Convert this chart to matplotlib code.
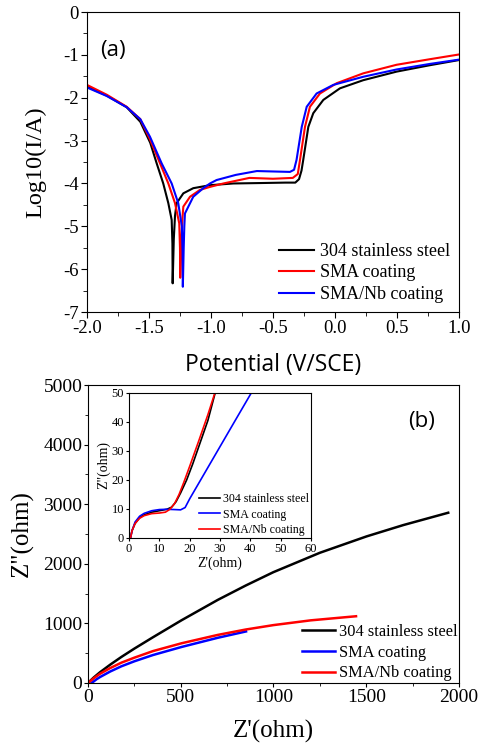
import matplotlib
matplotlib.use("Agg")
import matplotlib.pyplot as plt
from matplotlib.ticker import MultipleLocator

plt.rcParams['font.family'] = ['Liberation Serif', 'DejaVu Serif']
plt.rcParams['axes.unicode_minus'] = False

# ---- (a) polarization curves: potential (V/SCE) vs log10(I/A)
ss_x = [-2.0, -1.84, -1.68, -1.57, -1.49, -1.438, -1.385, -1.344, -1.317, -1.311, -1.309,
        -1.30, -1.29, -1.277, -1.223, -1.143, -1.008, -0.82, -0.6, -0.4, -0.32,
        -0.29, -0.27, -0.256, -0.215, -0.175, -0.094, 0.04, 0.228, 0.497, 0.766, 1.0]
ss_y = [-1.74, -1.95, -2.22, -2.56, -3.05, -3.53, -4.0, -4.46, -4.85, -5.4, -6.33,
        -5.3, -4.75, -4.46, -4.23, -4.11, -4.04, -4.0, -3.99, -3.98, -3.98,
        -3.9, -3.7, -3.45, -2.68, -2.36, -2.05, -1.78, -1.59, -1.39, -1.24, -1.12]

sma_x = [-2.0, -1.84, -1.68, -1.57, -1.492, -1.411, -1.344, -1.29, -1.256, -1.25, -1.248,
         -1.238, -1.23, -1.223, -1.169, -1.089, -1.008, -0.9, -0.69, -0.5, -0.34, -0.30,
         -0.282, -0.242, -0.202, -0.121, 0.014, 0.228, 0.497, 0.766, 1.0]
sma_y = [-1.70, -1.93, -2.21, -2.5, -2.97, -3.53, -4.0, -4.46, -4.93, -5.5, -6.2,
         -5.3, -4.8, -4.54, -4.31, -4.15, -4.08, -4.0, -3.87, -3.89, -3.87, -3.78,
         -3.45, -2.68, -2.21, -1.90, -1.66, -1.43, -1.23, -1.1, -0.99]

nb_x = [-2.0, -1.84, -1.68, -1.57, -1.492, -1.398, -1.317, -1.264, -1.235, -1.229, -1.227,
        -1.22, -1.215, -1.21, -1.143, -1.062, -1.008, -0.955, -0.8, -0.63, -0.5, -0.363, -0.33,
        -0.31, -0.268, -0.228, -0.148, -0.014, 0.228, 0.497, 0.766, 1.0]
nb_y = [-1.76, -1.96, -2.22, -2.5, -2.91, -3.53, -4.0, -4.46, -5.0, -5.6, -6.41,
        -5.5, -5.0, -4.7, -4.31, -4.11, -4.0, -3.92, -3.8, -3.71, -3.72, -3.73, -3.68,
        -3.45, -2.68, -2.21, -1.90, -1.70, -1.51, -1.34, -1.21, -1.11]

# ---- (b) Nyquist plots
eis_ss_x = [0, 30, 65, 120, 180, 250, 350, 505, 700, 850, 999, 1250, 1502, 1700, 1942]
eis_ss_y = [0, 90, 181, 308, 437, 577, 767, 1054, 1395, 1635, 1859, 2185, 2460, 2650, 2857]
eis_sma_x = [20, 45, 65, 120, 180, 250, 350, 505, 700, 852]
eis_sma_y = [0, 60, 100, 193, 280, 364, 469, 605, 759, 865]
eis_nb_x = [0, 30, 65, 120, 180, 250, 350, 505, 700, 850, 999, 1200, 1445]
eis_nb_y = [0, 78, 155, 251, 341, 425, 535, 667, 807, 897, 971, 1051, 1120]

# inset: high-frequency region
ins_ss_x = [0.5, 1, 2, 3.5, 5, 7.5, 10, 12.5, 14, 15.5, 17, 19, 21, 24, 26, 28.4]
ins_ss_y = [0, 2.5, 5, 7, 8, 8.9, 9.4, 9.9, 10.6, 12.5, 15.5, 20, 25.5, 34.5, 40.5, 50]
ins_sma_x = [0.5, 1, 2, 3.5, 5, 7.5, 10, 12.5, 15, 17, 18.5, 20, 25, 30, 35, 40.3]
ins_sma_y = [0, 2.5, 5.5, 7.5, 8.5, 9.4, 9.8, 9.9, 9.8, 9.7, 10.5, 13.5, 22.5, 31.5, 40.5, 50]
ins_nb_x = [0.5, 1, 2, 3.5, 5, 7.5, 10, 12, 13.5, 15, 16.5, 18, 20, 23, 26, 28.3]
ins_nb_y = [0, 2.5, 5, 6.8, 7.7, 8.4, 8.6, 8.9, 9.9, 11.8, 15, 19, 24.7, 33.5, 42.5, 50]

labels = ['304 stainless steel', 'SMA coating', 'SMA/Nb coating']

fig = plt.figure(figsize=(4.79, 7.44), dpi=100)

# Panel (a)
ax1 = fig.add_axes([0.1816, 0.5806, 0.7766, 0.4032])
ax1.plot(ss_x, ss_y, color='black', lw=1.5, label=labels[0])
ax1.plot(sma_x, sma_y, color='#ff0000', lw=1.5, label=labels[1])
ax1.plot(nb_x, nb_y, color='#0000ff', lw=1.5, label=labels[2])
ax1.set_xlim(-2.0, 1.0)
ax1.set_ylim(-7, 0)
ax1.xaxis.set_major_locator(MultipleLocator(0.5))
ax1.xaxis.set_minor_locator(MultipleLocator(0.25))
ax1.yaxis.set_major_locator(MultipleLocator(1))
ax1.yaxis.set_minor_locator(MultipleLocator(0.5))
ax1.xaxis.set_major_formatter(plt.FuncFormatter(lambda v, p: f'{v:.1f}'))
ax1.yaxis.set_major_formatter(plt.FuncFormatter(lambda v, p: f'{v:.0f}'))
ax1.tick_params(which='both', direction='out', labelsize=13.5, pad=2)
ax1.tick_params(which='major', length=4)
ax1.tick_params(which='minor', length=3)
ax1.set_ylabel('Log10(I/A)', fontsize=17.5, labelpad=12)
ax1.set_xlabel('Potential (V/SCE)', fontsize=16.5, family='Open Sans', labelpad=11)
ax1.text(0.035, 0.855, '(a)', transform=ax1.transAxes, fontsize=16, family='Open Sans')
ax1.legend(loc='lower right', frameon=False, fontsize=13, handlelength=1.9,
           handletextpad=0.35, labelspacing=0.25, borderpad=0, borderaxespad=0.5)

# Panel (b)
ax2 = fig.add_axes([0.1837, 0.082, 0.7745, 0.4005])
ax2.plot(eis_ss_x, eis_ss_y, color='black', lw=1.8, label=labels[0])
ax2.plot(eis_sma_x, eis_sma_y, color='#0000ff', lw=1.8, label=labels[1])
ax2.plot(eis_nb_x, eis_nb_y, color='#ff0000', lw=1.8, label=labels[2])
ax2.set_xlim(0, 2000)
ax2.set_ylim(0, 5000)
ax2.xaxis.set_major_locator(MultipleLocator(500))
ax2.xaxis.set_minor_locator(MultipleLocator(250))
ax2.yaxis.set_major_locator(MultipleLocator(1000))
ax2.yaxis.set_minor_locator(MultipleLocator(500))
ax2.tick_params(which='both', direction='out', labelsize=14, pad=1)
ax2.tick_params(which='major', length=3)
ax2.tick_params(which='minor', length=2)
ax2.set_ylabel('Z"(ohm)', fontsize=18, labelpad=7)
ax2.set_xlabel("Z'(ohm)", fontsize=18, labelpad=10)
ax2.text(0.862, 0.86, '(b)', transform=ax2.transAxes, fontsize=16, family='Open Sans')
ax2.legend(loc='lower right', frameon=False, fontsize=11.8, handlelength=2.0,
           handletextpad=0.25, labelspacing=0.28, borderpad=0, borderaxespad=0.1)

# Inset
ax3 = fig.add_axes([0.2693, 0.2769, 0.38, 0.1949])
ax3.plot(ins_ss_x, ins_ss_y, color='black', lw=1.2, label=labels[0])
ax3.plot(ins_sma_x, ins_sma_y, color='#0000ff', lw=1.2, label=labels[1])
ax3.plot(ins_nb_x, ins_nb_y, color='#ff0000', lw=1.2, label=labels[2])
ax3.set_xlim(0, 60)
ax3.set_ylim(0, 50)
ax3.xaxis.set_major_locator(MultipleLocator(10))
ax3.yaxis.set_major_locator(MultipleLocator(10))
ax3.tick_params(direction='out', labelsize=9, length=2.5, pad=1)
ax3.set_ylabel('Z"(ohm)', fontsize=10, labelpad=1)
ax3.set_xlabel("Z'(ohm)", fontsize=10, labelpad=1)
ax3.legend(loc='lower right', frameon=False, fontsize=8.6, handlelength=1.7,
           handletextpad=0.3, labelspacing=0.3, borderpad=0, borderaxespad=0.15)

fig.savefig('out.png', dpi=100)
